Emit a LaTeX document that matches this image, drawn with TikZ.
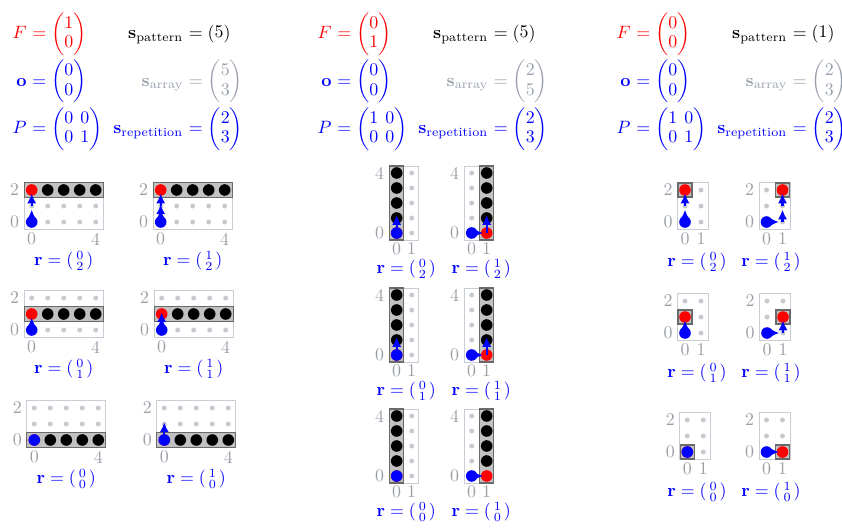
\documentclass[tikz,border=0pt]{standalone}
\usepackage{amsmath}
\usepackage{amssymb}
\usetikzlibrary{arrows.meta, positioning, calc}
\setlength{\arraycolsep}{2pt}
\renewcommand{\arraystretch}{0.9}

\begin{document}
\begin{tikzpicture}[
    x=0.56pt, y=-0.56pt,
    lhs/.style={anchor=base east, inner sep=0pt},
    rhs/.style={anchor=base west, inner sep=0pt},
    griddot/.style={circle, fill=dotgray, inner sep=0pt, minimum size=2.8pt},
    patdot/.style={circle, fill=black, inner sep=0pt, minimum size=6.5pt},
    startdot/.style={patdot, fill=pred},
    origdot/.style={patdot, fill=pblue},
    frame/.style={draw=framegray, line width=0.5pt},
    hlbox/.style={fill=hlgray, draw=hlborder, line width=0.6pt},
    steparrow/.style={-{Latex[length=5.5pt, width=5.2pt]}, pblue, line width=1.3pt, shorten >=2pt},
    zeroarrow/.style={-{Latex[length=5.5pt, width=5.2pt]}, pblue, line width=1.3pt},
    tick/.style={text=tickgray, inner sep=0pt},
    rlabel/.style={text=pblue, inner sep=0pt},
]

\definecolor{pred}{HTML}{FF0000}     % the pattern start, F
\definecolor{pblue}{HTML}{0000FF}    % offset, P, repetitions
\definecolor{sgray}{HTML}{98A0AC}
\definecolor{tickgray}{HTML}{9A9FA6}
\definecolor{dotgray}{HTML}{C6CAD0}
\definecolor{framegray}{HTML}{C8CCD4}
\definecolor{hlgray}{HTML}{C2C2C2}
\definecolor{hlborder}{HTML}{6A6A6A}

\useasboundingbox (0,0) rectangle (842,531);

% ================================================================
%   all coordinates in pixels, y downwards
%   column 1: rows of 5     (5 x 3 array)
%   column 2: columns of 5  (2 x 5 array)
%   column 3: single cells  (2 x 3 array)
% ================================================================

% ---------------------------------------------------------------- headers
\foreach \i/\cx/\Fv/\Pv/\spat/\sarr in {
        1/0/{1\\0}/{0&0\\0&1}/5/{5\\3},
        2/305/{0\\1}/{1&0\\0&0}/5/{2\\5},
        3/604/{0\\0}/{1&0\\0&1}/1/{2\\3}} {
    \node[lhs, text=pred] (F\i) at (\cx+27, 38.5) {$F$};
    \node[rhs, text=pred] (Fm\i) at (F\i.base east)
        {${}=\begin{pmatrix}\Fv\end{pmatrix}$};
    \node[lhs] (sp\i) at (\cx+183.5, 38.5) {$\mathbf{s}_{\text{pattern}}$};
    \node[rhs] (spm\i) at (sp\i.base east)
        {${}=\begin{pmatrix}\spat\end{pmatrix}$};

    \node[lhs, text=pblue] (o\i) at (\cx+27, 86) {$\mathbf{o}$};
    \node[rhs, text=pblue] (om\i) at (o\i.base east)
        {${}=\begin{pmatrix}0\\0\end{pmatrix}$};
    \node[lhs, text=sgray] (sa\i) at (\cx+183.5, 86) {$\mathbf{s}_{\text{array}}$};
    \node[rhs, text=sgray] (sam\i) at (sa\i.base east)
        {${}=\begin{pmatrix}\sarr\end{pmatrix}$};

    \node[lhs, text=pblue] (P\i) at (\cx+27, 133.5) {$P$};
    \node[rhs, text=pblue] (Pm\i) at (P\i.base east)
        {${}=\begin{pmatrix}\Pv\end{pmatrix}$};
    \node[lhs, text=pblue] (sr\i) at (\cx+183.5, 133.5) {$\mathbf{s}_{\text{repetition}}$};
    \node[rhs, text=pblue] (srm\i) at (sr\i.base east)
        {${}=\begin{pmatrix}2\\3\end{pmatrix}$};
}

% ---------------------------------------------------------------- column 1
\def\gs{16}
\foreach \n/\ox/\oy/\ra/\rb in {1a/31.7/222/0/2, 1b/160.7/222/1/2,
        1c/31.7/330/0/1, 1d/161.7/330/1/1, 1e/34.3/440/0/0, 1f/164.3/440/1/0} {
    \draw[frame] (\ox-7.5, \oy+7.5) rectangle (\ox+4*\gs+7.5, \oy-2*\gs-7.5);
    \foreach \i in {0,...,4} \foreach \j in {0,1,2}
        \node[griddot] at (\ox+\i*\gs, \oy-\j*\gs) {};
    \draw[hlbox] (\ox-7.5, \oy-\rb*\gs+7.5) rectangle (\ox+4*\gs+7.5, \oy-\rb*\gs-7.5);
    \foreach \k in {1,...,4}
        \node[patdot] at (\ox+\k*\gs, \oy-\rb*\gs) {};
    \node[startdot] (st\n) at (\ox, \oy-\rb*\gs) {};
    % steps: first column of P is zero
    \coordinate (c\n0) at (\ox, \oy);
    \ifnum\ra>0
        \coordinate (z\n) at (\ox, \oy-1.1*\gs);
        \draw[zeroarrow] (c\n0) -- (z\n);
    \fi
    \ifnum\rb>0
        \foreach \j [evaluate=\j as \jj using int(\j-1)] in {1,...,\rb} {
            \coordinate (c\n\j) at (\ox, \oy-\j*\gs);
            \draw[steparrow] (c\n\jj) -- (c\n\j);
        }
    \fi
    \node[origdot] (or\n) at (\ox, \oy) {};
    \node[tick] (ty\n) at (\ox-17, \oy-2*\gs) {2};
    \node[tick] (tz\n) at (\ox-17, \oy) {0};
    \node[tick] (tx\n) at (\ox, \oy+17) {0};
    \node[tick] (tw\n) at (\ox+4*\gs, \oy+17) {4};
    \node[rlabel] (r\n) at (\ox+2*\gs, \oy+39)
        {$\mathbf{r}=\left(\begin{smallmatrix}\ra\\\rb\end{smallmatrix}\right)$};
}

% ---------------------------------------------------------------- column 2
\def\gs{15}
\foreach \n/\ox/\oy/\ra/\rb in {2a/396.7/233/0/2, 2b/471.7/233/1/2,
        2c/396.7/355/0/1, 2d/471.7/355/1/1, 2e/396.7/476/0/0, 2f/471.7/476/1/0} {
    \draw[frame] (\ox-7, \oy+7) rectangle (\ox+\gs+7, \oy-4*\gs-7);
    \foreach \i in {0,1} \foreach \j in {0,...,4}
        \node[griddot] at (\ox+\i*\gs, \oy-\j*\gs) {};
    \draw[hlbox] (\ox+\ra*\gs-7, \oy+7) rectangle (\ox+\ra*\gs+7, \oy-4*\gs-7);
    \foreach \k in {1,...,4}
        \node[patdot] at (\ox+\ra*\gs, \oy-\k*\gs) {};
    \node[startdot] (st\n) at (\ox+\ra*\gs, \oy) {};
    % steps: second column of P is zero
    \coordinate (c\n) at (\ox, \oy);
    \coordinate (e\n) at (\ox+\ra*\gs, \oy);
    \ifnum\ra>0 \draw[steparrow] (c\n) -- (e\n); \fi
    \ifnum\rb>0
        \coordinate (z\n) at (\ox+\ra*\gs, \oy-1.2*\gs);
        \draw[zeroarrow] (e\n) -- (z\n);
    \fi
    \node[origdot] (or\n) at (\ox, \oy) {};
    \node[tick] (ty\n) at (\ox-17, \oy-4*\gs) {4};
    \node[tick] (tz\n) at (\ox-17, \oy) {0};
    \node[tick] (tx\n) at (\ox, \oy+16) {0};
    \node[tick] (tw\n) at (\ox+\gs, \oy+16) {1};
    \node[rlabel] (r\n) at (\ox+0.5*\gs+2, \oy+36)
        {$\mathbf{r}=\left(\begin{smallmatrix}\ra\\\rb\end{smallmatrix}\right)$};
}

% ---------------------------------------------------------------- column 3
\def\gs{16}
\foreach \n/\ox/\oy/\ra/\rb/\lx in {3a/685/222/0/2/697, 3b/766.5/222/1/2/771,
        3c/685/333/0/1/697, 3d/767/333/1/1/771, 3e/687.3/452/0/0/697, 3f/766.5/452/1/0/771} {
    \draw[frame] (\ox-7.5, \oy+7.5) rectangle (\ox+\gs+7.5, \oy-2*\gs-7.5);
    \foreach \i in {0,1} \foreach \j in {0,1,2}
        \node[griddot] at (\ox+\i*\gs, \oy-\j*\gs) {};
    \draw[hlbox] (\ox+\ra*\gs-7, \oy-\rb*\gs+7) rectangle (\ox+\ra*\gs+7, \oy-\rb*\gs-7);
    \node[startdot] (st\n) at (\ox+\ra*\gs, \oy-\rb*\gs) {};
    \coordinate (c\n) at (\ox, \oy);
    \coordinate (e\n0) at (\ox+\ra*\gs, \oy);
    \ifnum\ra>0 \draw[steparrow] (c\n) -- (e\n0); \fi
    \ifnum\rb>0
        \foreach \j [evaluate=\j as \jj using int(\j-1)] in {1,...,\rb} {
            \coordinate (e\n\j) at (\ox+\ra*\gs, \oy-\j*\gs);
            \draw[steparrow] (e\n\jj) -- (e\n\j);
        }
    \fi
    \node[origdot] (or\n) at (\ox, \oy) {};
    \node[tick] (ty\n) at (\ox-17, \oy-2*\gs) {2};
    \node[tick] (tz\n) at (\ox-17, \oy) {0};
    \node[tick] (tx\n) at (\ox, \oy+17) {0};
    \node[tick] (tw\n) at (\ox+\gs, \oy+17) {1};
    \node[rlabel] (r\n) at (\lx, \oy+40)
        {$\mathbf{r}=\left(\begin{smallmatrix}\ra\\\rb\end{smallmatrix}\right)$};
}

\end{tikzpicture}
\end{document}
